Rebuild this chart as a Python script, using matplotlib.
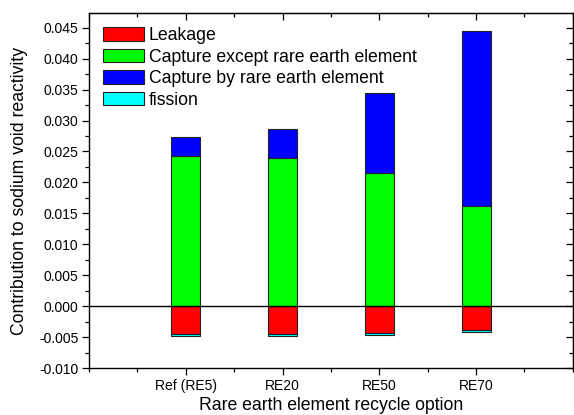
import matplotlib.pyplot as plt
import numpy as np
from matplotlib.ticker import MultipleLocator, FormatStrFormatter

plt.rcParams["font.family"] = ["Liberation Sans", "DejaVu Sans"]

options = ["Ref (RE5)", "RE20", "RE50", "RE70"]
leakage = [-0.00452, -0.00450, -0.00440, -0.00380]
capture_other = [0.0242, 0.0239, 0.0216, 0.0162]
capture_re = [0.0031, 0.0048, 0.0128, 0.0283]
fission = [-0.00028, -0.00030, -0.00030, -0.00040]

x = np.arange(1, len(options) + 1)
width = 0.3
edge = dict(edgecolor="#222222", linewidth=0.8)

fig = plt.figure(figsize=(5.74, 4.15), dpi=100)
ax = fig.add_axes([0.155, 0.113, 0.843, 0.856])

ax.bar(x, leakage, width, color="#ff0000", label="Leakage", zorder=2, **edge)
ax.bar(x, capture_other, width, color="#00ff00", label="Capture except rare earth element", zorder=2, **edge)
ax.bar(x, capture_re, width, bottom=capture_other, color="#0000ff",
       label="Capture by rare earth element", zorder=2, **edge)
ax.bar(x, fission, width, bottom=leakage, color="#00ffff", label="fission", zorder=2, **edge)
ax.axhline(0, color="black", lw=1.0, zorder=3)

ax.set_xlim(0, 5)
ax.set_ylim(-0.010, 0.0474)
ax.set_xticks(x)
ax.set_xticklabels(options)
ax.xaxis.set_minor_locator(MultipleLocator(0.5))
ax.yaxis.set_major_locator(MultipleLocator(0.005))
ax.yaxis.set_minor_locator(MultipleLocator(0.0025))
ax.yaxis.set_major_formatter(FormatStrFormatter("%.3f"))
ax.tick_params(which="major", direction="out", length=5, width=0.9, labelsize=10, pad=2.5)
ax.tick_params(which="minor", direction="out", length=3, width=0.9)
for s in ax.spines.values():
    s.set_linewidth(1.0)

top = ax.secondary_xaxis("top")
top.set_xticks(list(range(0, 6)))
top.xaxis.set_minor_locator(MultipleLocator(0.5))
top.tick_params(which="major", direction="in", length=5, width=0.9, labeltop=False)
top.tick_params(which="minor", direction="in", length=3, width=0.9)

right = ax.secondary_yaxis("right")
right.yaxis.set_major_locator(MultipleLocator(0.005))
right.yaxis.set_minor_locator(MultipleLocator(0.0025))
right.tick_params(which="major", direction="in", length=5, width=0.9, labelright=False)
right.tick_params(which="minor", direction="in", length=3, width=0.9)

ax.set_xlabel("Rare earth element recycle option", fontsize=12.7, labelpad=3)
ax.set_ylabel("Contribution to sodium void reactivity", fontsize=12.7, labelpad=8)

ax.legend(loc="upper left", bbox_to_anchor=(0.0, 1.0), frameon=False, fontsize=12.7,
          handlelength=2.3, handleheight=0.8, labelspacing=0.26, handletextpad=0.3,
          borderaxespad=0.5, borderpad=0.3)

fig.savefig("out.png", dpi=100)
